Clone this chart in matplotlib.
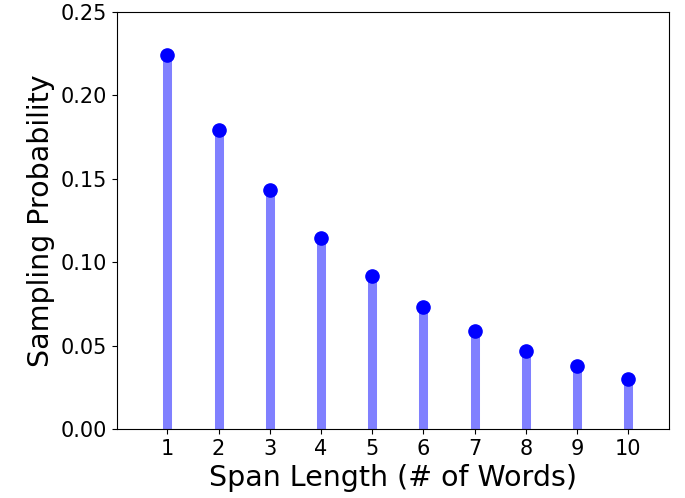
import matplotlib
matplotlib.use("Agg")
from matplotlib import pyplot as plt

span_lengths = [1, 2, 3, 4, 5, 6, 7, 8, 9, 10]
probs = [0.2241, 0.1793, 0.1434, 0.1147, 0.0918, 0.0734, 0.0587, 0.0470, 0.0376, 0.0301]
yticks = [0.00, 0.05, 0.10, 0.15, 0.20, 0.25]

fig = plt.figure(figsize=(6.85, 4.98), dpi=100)
ax = fig.add_axes([0.171, 0.1386, 0.806, 0.8374])

ax.vlines(span_lengths, 0, probs, colors='#8080ff', linewidth=6.5)
ax.plot(span_lengths, probs, 'o', color='#0000ff', markersize=9.5)

ax.set_xlim(0.02, 10.8)
ax.set_ylim(0, 0.25)
ax.set_xticks(span_lengths)
ax.set_yticks(yticks)
ax.set_yticklabels(["%.2f" % t for t in yticks])
ax.tick_params(labelsize=15)
ax.set_xlabel("Span Length (# of Words)", fontsize=20.5)
ax.set_ylabel("Sampling Probability", fontsize=20.5)

fig.savefig("out.png", dpi=100)
